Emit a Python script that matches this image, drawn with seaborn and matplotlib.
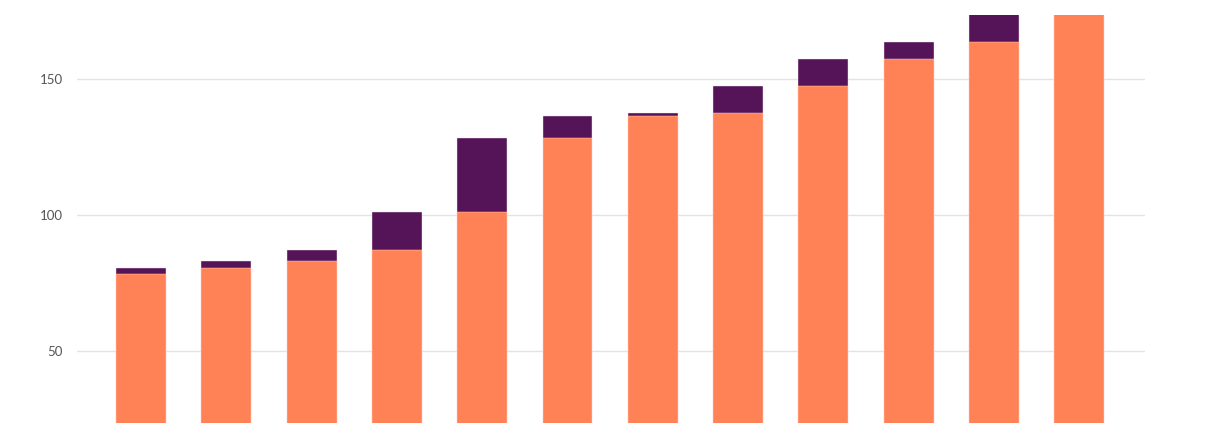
import pandas as pd
import matplotlib
matplotlib.use("Agg")
import matplotlib.pyplot as plt
import seaborn as sns

# values (the last bars are clipped at the top)
steps = ["1", "2", "3", "4", "5", "6", "7", "8", "9", "10", "11", "12"]
base = [78.3, 80.5, 83.1, 87.1, 101.1, 128.3, 136.4, 137.5, 147.4, 157.4, 163.6, 176.0]
increase = [2.2, 2.6, 4.0, 14.0, 27.2, 8.1, 1.1, 9.9, 10.0, 6.2, 12.4, 0.0]

df = pd.DataFrame({"step": steps, "base": base, "increase": increase})
df["total"] = df["base"] + df["increase"]

sns.set_style("white")
plt.rcParams["font.family"] = ["Lato", "DejaVu Sans"]

fig = plt.figure(figsize=(12.1, 4.23), dpi=100)
ax = fig.add_axes([77 / 1210, 0.0, (1145 - 77) / 1210, (423 - 15) / 423])

sns.barplot(data=df, x="step", y="total", color="#561458", saturation=1,
            width=0.586, edgecolor="#f3e6f0", linewidth=0.3, ax=ax, zorder=2)
sns.barplot(data=df, x="step", y="base", color="#FF8257", saturation=1,
            width=0.586, edgecolor="#ffd9cc", linewidth=0.3, ax=ax, zorder=3)

ax.set_ylim(23.5, 173.5)
ax.set_xlim(-0.75, 11.77)
ax.set_yticks([50, 100, 150])
ax.yaxis.grid(True, color="#e3e3e3", linewidth=1)
ax.set_axisbelow(True)
ax.set_xticks([])
ax.set_xlabel("")
ax.set_ylabel("")
ax.tick_params(axis="y", length=0, pad=10, labelsize=9.5, labelcolor="#555555")
sns.despine(ax=ax, left=True, bottom=True)

fig.savefig("out.png", dpi=100)
